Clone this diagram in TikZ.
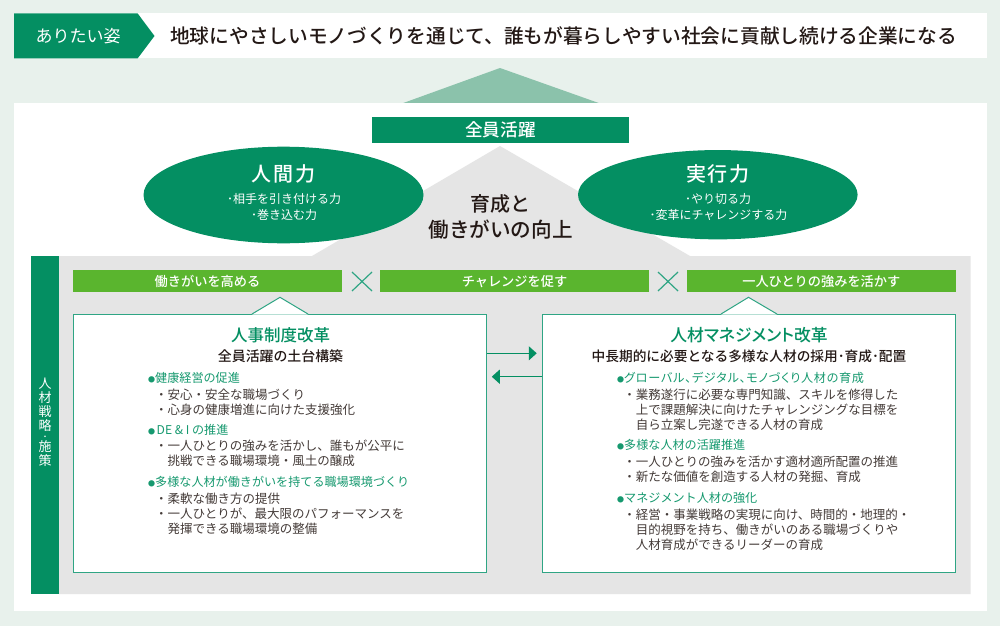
\documentclass[tikz,border=0pt]{standalone}
\usepackage{fontspec}
\usetikzlibrary{arrows.meta,shapes.geometric}
\newfontfamily\jp{Noto Sans CJK JP}
\newfontfamily\jpm{Noto Sans CJK JP Medium}
\newcommand{\palt}{\addfontfeature{RawFeature=+palt}}
\newcommand{\hdot}{\makebox[7pt][l]{\fontsize{7}{7}\selectfont ●}}
\definecolor{bgc}{HTML}{E8F1EC}
\definecolor{grn}{HTML}{048F62}
\definecolor{lime}{HTML}{5AB52E}
\definecolor{gry}{HTML}{E5E5E5}
\definecolor{ink}{HTML}{231815}
\definecolor{tri}{HTML}{8BC2AB}
\definecolor{edge}{HTML}{2FA584}
\definecolor{head}{HTML}{16996F}
\tikzset{
 x=1pt,y=-1pt,
 lbl/.style={inner sep=0pt,text=ink,font=\jp\fontsize{#1}{#1}\selectfont,text height=.88*#1pt,text depth=.12*#1pt},
 mlbl/.style={inner sep=0pt,text=ink,font=\jpm\fontsize{#1}{#1}\selectfont,text height=.88*#1pt,text depth=.12*#1pt},
 wh/.style={text=white},
 left lbl/.style={lbl=#1,anchor=west},
 bandbox/.style={fill=lime,draw=none,minimum width=269pt,minimum height=22pt,inner sep=0pt,text=white,font=\jpm\fontsize{13.2}{13.2}\selectfont,text height=11.6pt,text depth=1.6pt},
 oval/.style={ellipse,fill=grn,draw=none,inner sep=0pt},
 bigbox/.style={draw=edge,fill=white,line width=1pt,inner sep=0pt,minimum width=413.5pt,minimum height=258pt},
 conn/.style={draw=grn,line width=1.3pt,-{Triangle[length=8pt,width=14pt]}},
 cross/.style={draw=edge,line width=1.2pt},
 hd/.style={left lbl=12.1,text=head},
 bd/.style={left lbl=12.5,text=ink!85!white},
 sidetext/.style={inner sep=0pt,align=center,text=white,font=\jp\fontsize{13}{14}\selectfont},
}
\begin{document}
\begin{tikzpicture}
\useasboundingbox (0,0) rectangle (1000,626);
\fill[bgc] (0,0) rectangle (1000,626);
\fill[white] (14,13.5) rectangle (987,58.3);
\fill[grn] (14,13.5) -- (137.7,13.5) -- (154.5,36) -- (137.7,58.3) -- (14,58.3) -- cycle;
\node[lbl=17,wh] (goal) at (78,36) {ありたい姿};
\node[mlbl=19.7,anchor=west] (goaltext) at (170,36) {地球にやさしいモノづくりを通じて、誰もが暮らしやすい社会に貢献し続ける企業になる};
\fill[tri] (403.3,103) -- (500,68) -- (598.7,103) -- cycle;
\fill[white] (14,102.7) rectangle (987,611);
\fill[gry] (59,256) -- (312,256) -- (500,146) -- (690,256) -- (970.7,256) -- (970.7,594) -- (59,594) -- cycle;
\fill[grn] (31,256) rectangle (59,594);
\node[sidetext] (side1) at (45,404.5) {人\\材\\戦\\略};
\node[inner sep=0pt,text=white,font=\jpm\fontsize{7}{7}\selectfont,text height=6.2pt,text depth=.8pt] (sidedot) at (45,436.7) {・};
\node[sidetext] (side2) at (45,453.5) {施\\策};
\node[fill=grn,minimum width=257pt,minimum height=26pt,inner sep=0pt,text=white,font=\jpm\fontsize{17.6}{17.6}\selectfont,text height=15.5pt,text depth=2.1pt] (all) at (500.5,130) {全員活躍};
\node[oval,minimum width=280pt,minimum height=96.6pt] (o1) at (283.5,195) {};
\node[oval,minimum width=279.6pt,minimum height=89.3pt] (o2) at (717.8,194.7) {};
\node[lbl=20,wh,font=\jpm\addfontfeature{LetterSpace=8}\fontsize{20}{20}\selectfont] (o1t) at (283.5,174) {人間力};
\node[lbl=12,wh] (o1a) at (284,198.5) {･相手を引き付ける力};
\node[lbl=12,wh] (o1b) at (284,215) {･巻き込む力};
\node[lbl=20,wh,font=\jpm\addfontfeature{LetterSpace=8}\fontsize{20}{20}\selectfont] (o2t) at (718,174) {実行力};
\node[lbl=12,wh] (o2a) at (718,198.5) {･やり切る力};
\node[lbl=12,wh] (o2b) at (718.5,215) {･変革にチャレンジする力};
\node[mlbl=20] (c1) at (500.5,204) {育成と};
\node[mlbl=20.6] (c2) at (500.5,229.3) {働きがいの向上};
\node[bandbox] (b1) at (207.5,281) {働きがいを高める};
\node[bandbox] (b2) at (514.5,281) {チャレンジを促す};
\node[bandbox] (b3) at (821.3,281) {一人ひとりの強みを活かす};
\draw[cross] (352,272) -- (372,291) (372,272) -- (352,291);
\draw[cross] (658,272) -- (678,291) (678,272) -- (658,291);
\node[bigbox] (lb) at (280,443.2) {};
\node[bigbox] (rb) at (749,443.2) {};
\fill[white] (252,314.6) -- (280,297.3) -- (308,314.6) -- cycle;
\draw[edge,line width=1pt] (252,314) -- (280,297.3) -- (308,314);
\fill[white] (721,314.6) -- (748.5,297.3) -- (777,314.6) -- cycle;
\draw[edge,line width=1pt] (721,314) -- (748.5,297.3) -- (777,314);
\draw[conn,shorten >=5pt] (lb.east |- 0,353.3) -- (rb.west |- 0,353.3);
\draw[conn,shorten >=4.5pt] (rb.west |- 0,376.7) -- (lb.east |- 0,376.7);
\node[mlbl=16.5,text=grn] (lt) at (280.5,335) {人事制度改革};
\node[mlbl=13.9] (ls) at (280.5,356.7) {全員活躍の土台構築};
\node[hd] (l1) at (148,377.7) {\hdot 健康経営の促進};
\node[bd] (l2) at (167.5,394.5) {\llap{・}安心・安全な職場づくり};
\node[bd] (l3) at (167.5,409.5) {\llap{・}心身の健康増進に向けた支援強化};
\node[hd] (l4) at (148,429.5) {\hdot\hspace{1.5pt}DE \& I の推進};
\node[bd] (l5) at (167.5,446) {\llap{・}一人ひとりの強みを活かし、誰もが公平に};
\node[bd] (l6) at (167.5,461) {挑戦できる職場環境・風土の醸成};
\node[hd] (l7) at (148,482) {\hdot 多様な人材が働きがいを持てる職場環境づくり};
\node[bd] (l8) at (167.5,499) {\llap{・}柔軟な働き方の提供};
\node[bd] (l9) at (167.5,514) {\llap{・}一人ひとりが、最大限のパフォーマンスを};
\node[bd] (l10) at (167.5,529) {発揮できる職場環境の整備};
\node[mlbl=16.8,text=grn,font=\jpm\palt\fontsize{16.8}{16.8}\selectfont] (rt) at (749,335) {人材マネジメント改革};
\node[mlbl=13.7] (rs) at (749,356.7) {中長期的に必要となる多様な人材の採用･育成･配置};
\node[hd] (r1) at (617,377.7) {\hdot{\palt\addfontfeature{LetterSpace=6}グローバル、デジタル、モノづくり人材の育成}};
\node[bd] (r2) at (635.7,394.5) {\llap{・}業務遂行に必要な専門知識、スキルを修得した};
\node[bd] (r3) at (635.7,409.5) {上で課題解決に向けたチャレンジングな目標を};
\node[bd] (r4) at (635.7,424.7) {自ら立案し完遂できる人材の育成};
\node[hd] (r5) at (617,444.7) {\hdot 多様な人材の活躍推進};
\node[bd] (r6) at (635.7,461.3) {\llap{・}一人ひとりの強みを活かす適材適所配置の推進};
\node[bd] (r7) at (635.7,476.7) {\llap{・}新たな価値を創造する人材の発掘、育成};
\node[hd] (r8) at (617,498) {\hdot マネジメント人材の強化};
\node[bd] (r9) at (635.7,514.7) {\llap{・}経営・事業戦略の実現に向け、時間的・地理的・};
\node[bd] (r10) at (635.7,529.7) {目的視野を持ち、働きがいのある職場づくりや};
\node[bd] (r11) at (635.7,545) {人材育成ができるリーダーの育成};
\end{tikzpicture}
\end{document}
